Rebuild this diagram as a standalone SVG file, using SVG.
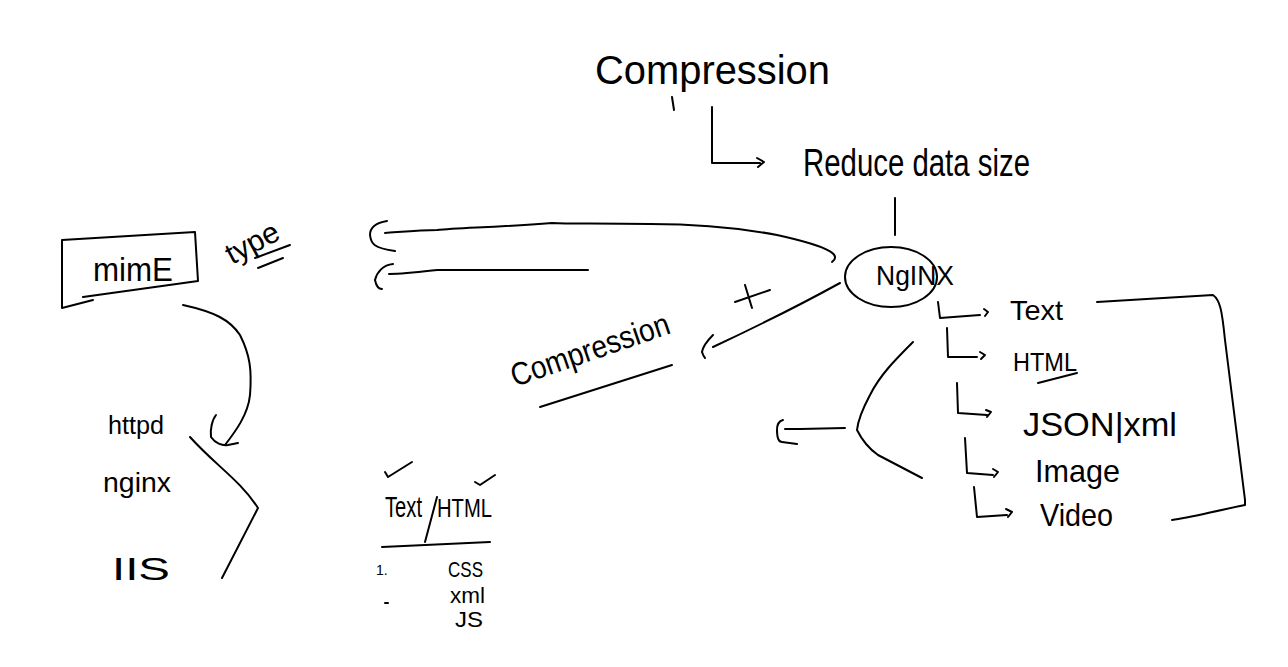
<svg xmlns="http://www.w3.org/2000/svg" width="1288" height="667" viewBox="0 0 1288 667">
<style>
.t{font-family:"Liberation Sans","DejaVu Sans",sans-serif;fill:#000;}
.s{fill:none;stroke:#000;stroke-width:2;stroke-linecap:round;stroke-linejoin:round;}
</style>
<rect width="1288" height="667" fill="#fff"/>
<g id="title">
<text class="t" x="595" y="84" font-size="40" textLength="235" lengthAdjust="spacingAndGlyphs">Compression</text>
</g>
<g id="reduce">
<text class="t" x="803" y="176" font-size="38" textLength="227" lengthAdjust="spacingAndGlyphs">Reduce data size</text>
</g>
<g id="nginx-node">
<ellipse class="s" cx="891" cy="277" rx="46" ry="30"/>
<text class="t" x="876" y="285" font-size="28" textLength="78" lengthAdjust="spacingAndGlyphs">NgINX</text>
</g>
<g id="mime">
<path class="s" d="M62,240 L195,232 L198,281 L83,297 M62,240 L62,308 L93,300"/>
<text class="t" x="93" y="281" font-size="34" textLength="80" lengthAdjust="spacingAndGlyphs">mimE</text>
</g>
<g id="type">
<text class="t" x="232" y="265" font-size="30" transform="rotate(-28 232 265)">type</text>
<path class="s" d="M255,258 L290,245 M258,268 L283,258"/>
</g>
<g id="servers">
<text class="t" x="108" y="434" font-size="26" textLength="56" lengthAdjust="spacingAndGlyphs">httpd</text>
<text class="t" x="103" y="492" font-size="28" textLength="68" lengthAdjust="spacingAndGlyphs">nginx</text>
<text class="t" x="112" y="580" font-size="32" textLength="58" lengthAdjust="spacingAndGlyphs">IIS</text>
</g>
<g id="compression2">
<text class="t" x="515" y="387" font-size="32" textLength="166" lengthAdjust="spacingAndGlyphs" transform="rotate(-19 515 387)">Compression</text>
<path class="s" d="M540,407 L672,365"/>
</g>
<g id="plus">
<path class="s" d="M745,285 L752,308 M735,302 L770,290"/>
</g>
<g id="types">
<text class="t" x="1010" y="320" font-size="28" textLength="53" lengthAdjust="spacingAndGlyphs">Text</text>
<text class="t" x="1013" y="371" font-size="26" textLength="64" lengthAdjust="spacingAndGlyphs">HTML</text>
<path class="s" d="M1038,383 L1077,373"/>
<text class="t" x="1023" y="436" font-size="34" textLength="154" lengthAdjust="spacingAndGlyphs">JSON|xml</text>
<text class="t" x="1035" y="482" font-size="32" textLength="85" lengthAdjust="spacingAndGlyphs">Image</text>
<text class="t" x="1040" y="526" font-size="32" textLength="73" lengthAdjust="spacingAndGlyphs">Video</text>
</g>
<g id="table">
<path class="s" d="M385,472 L388,477 L412,462 M475,482 L480,485 L495,475"/>
<text class="t" x="385" y="517" font-size="30" textLength="37" lengthAdjust="spacingAndGlyphs">Text</text>
<path class="s" d="M437,497 L425,542"/>
<text class="t" x="437" y="517" font-size="26" textLength="55" lengthAdjust="spacingAndGlyphs">HTML</text>
<path class="s" d="M382,547 L490,542"/>
<text class="t" x="376" y="575" font-size="14">1.</text>
<path class="s" d="M385,603 L388,603"/>
<text class="t" x="448" y="577" font-size="22" textLength="35" lengthAdjust="spacingAndGlyphs">CSS</text>
<text class="t" x="450" y="603" font-size="22" textLength="35" lengthAdjust="spacingAndGlyphs">xml</text>
<text class="t" x="455" y="627" font-size="22" textLength="28" lengthAdjust="spacingAndGlyphs">JS</text>
</g>
<g id="connectors">
<path class="s" d="M672,97 L674,110"/>
<path class="s" d="M712,107 L712,163 L760,163 M757,158 L764,162 L758,167"/>
<path class="s" d="M895,198 L895,235"/>
<path class="s" d="M832,262 C840,256 836,248 777,235 C740,228 700,224 650,224 C600,223 570,224 552,223 C500,227 460,228 437,230 C420,230 400,232 385,233 M387,221 C375,223 370,228 370,235 C371,244 374,248 395,251"/>
<path class="s" d="M588,270 L437,270 C420,272 405,274 389,274 M393,264 C383,265 377,272 375,280 C376,285 378,289 382,289"/>
<path class="s" d="M840,283 C800,305 760,325 713,347 M713,335 C708,340 703,346 702,352 C703,355 704,357 705,358"/>
<path class="s" d="M183,305 C215,312 230,320 240,335 C250,355 252,370 250,395 C248,415 235,432 225,445 M216,415 C212,420 210,430 211,437 C215,443 222,446 228,445 L238,443"/>
<path class="s" d="M190,437 C215,465 240,480 258,508 L222,578"/>
<path class="s" d="M938,302 L940,318 L980,315 M984,309 L988,312 L985,316"/>
<path class="s" d="M947,328 L948,357 L977,357 M980,352 L985,355 L981,359"/>
<path class="s" d="M957,383 L958,413 L987,415 M986,410 L991,412 L987,417"/>
<path class="s" d="M965,438 L967,473 L993,475 M993,469 L998,472 L994,477"/>
<path class="s" d="M974,487 L977,517 L1007,515 M1006,509 L1012,512 L1008,517"/>
<path class="s" d="M1097,302 L1213,295 C1220,300 1222,310 1225,340 L1245,500 L1245,505 C1210,512 1190,518 1172,520"/>
<path class="s" d="M913,342 C895,360 880,375 870,395 C862,410 858,420 857,430 C862,440 868,448 878,455 L922,478"/>
<path class="s" d="M845,428 L800,429 L785,429 M783,420 C779,421 777,425 777,430 C777,438 779,442 782,442 L797,444"/>
</g>
</svg>
